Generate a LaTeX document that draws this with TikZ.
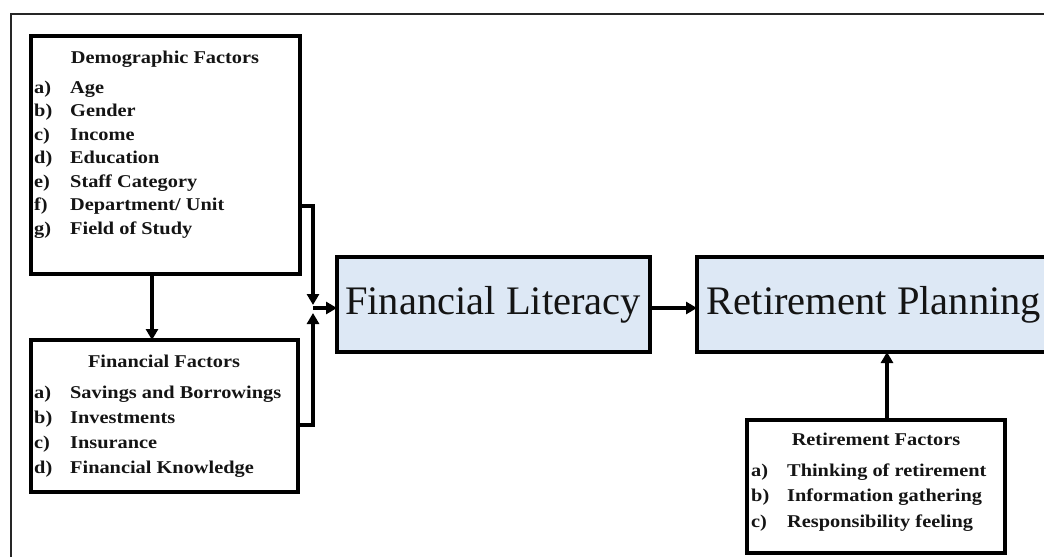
\documentclass[tikz,border=0pt]{standalone}
\usepackage{fontspec}
\setmainfont{Liberation Serif}
\usetikzlibrary{arrows.meta}
\definecolor{coreblue}{HTML}{DDE8F5}
\definecolor{inktext}{HTML}{141414}
\newcommand{\itm}[2]{\makebox[36pt][l]{#1}#2}
\begin{document}
\begin{tikzpicture}[x=1pt,y=-1pt,
  box/.style={draw=black, line width=3.4pt, inner sep=0pt, outer sep=0pt},
  core/.style={box, fill=coreblue},
  head/.style={font=\fontsize{18}{21}\selectfont\bfseries\addfontfeature{FakeStretch=1.13}, text=inktext, inner sep=0pt, anchor=base},
  lbl/.style={font=\fontsize{18}{21}\selectfont\bfseries\addfontfeature{FakeStretch=1.13}, text=inktext, inner sep=0pt, anchor=base west},
  big/.style={font=\fontsize{40.5}{48}\selectfont, text=inktext, inner sep=0pt},
  conn/.style={line width=3.4pt, -{Triangle[length=11pt,width=12pt]}}]
\useasboundingbox (0,0) rectangle (1044,557);
% outer frame
\draw[line width=1.6pt, draw=black!85] (11,557) -- (11,14) -- (1044,14);
% boxes
\node[box, minimum width=269pt, minimum height=238pt] (demo) at (165.5,155) {};
\node[box, minimum width=267pt, minimum height=152pt] (fin) at (164.5,416) {};
\node[core, minimum width=313pt, minimum height=95pt] (fl) at (493.5,304.5) {};
\node[core, minimum width=380pt, minimum height=95pt, anchor=west] (rp) at (697,304.5) {};
\node[box, minimum width=258pt, minimum height=133pt] (rf) at (876,486.5) {};
% big texts
\node[big] (fltext) at (493,305) {Financial Literacy};
\node[big] (rptext) at (874,305) {Retirement Planning};
% demographic
\node[head] (dh) at (165,63) {Demographic Factors};
\node[lbl] (d1) at (34,93) {\itm{a)}{Age}};
\node[lbl] (d2) at (34,116.5) {\itm{b)}{Gender}};
\node[lbl] (d3) at (34,140) {\itm{c)}{Income}};
\node[lbl] (d4) at (34,163.5) {\itm{d)}{Education}};
\node[lbl] (d5) at (34,187) {\itm{e)}{Staff Category}};
\node[lbl] (d6) at (34,210.5) {\itm{f)}{Department/ Unit}};
\node[lbl] (d7) at (34,234) {\itm{g)}{Field of Study}};
% financial factors
\node[head] (fh) at (164,367) {Financial Factors};
\node[lbl] (f1) at (34,398.5) {\itm{a)}{Savings and Borrowings}};
\node[lbl] (f2) at (34,423.5) {\itm{b)}{Investments}};
\node[lbl] (f3) at (34,448.5) {\itm{c)}{Insurance}};
\node[lbl] (f4) at (34,473.5) {\itm{d)}{Financial Knowledge}};
% retirement factors
\node[head] (rh) at (876,445) {Retirement Factors};
\node[lbl] (r1) at (751,476.5) {\itm{a)}{Thinking of retirement}};
\node[lbl] (r2) at (751,501.5) {\itm{b)}{Information gathering}};
\node[lbl] (r3) at (751,527) {\itm{c)}{Responsibility feeling}};
% connectors
\coordinate (dx) at (152,0);
\coordinate (jd) at (313,305);
\coordinate (ju) at (313,313);
\coordinate (jm) at (313,308);
\coordinate (rx) at (887,0);
\draw[conn] (demo.south -| dx) -- (fin.north -| dx);
\draw[conn] (demo.east |- 0,206) -| (jd);
\draw[conn] (fin.east |- 0,425) -| (ju);
\draw[conn] (jm) -- (fl.west |- jm);
\draw[conn] (fl.east |- jm) -- (rp.west |- jm);
\draw[conn] (rf.north -| rx) -- (rp.south -| rx);
\end{tikzpicture}
\end{document}
